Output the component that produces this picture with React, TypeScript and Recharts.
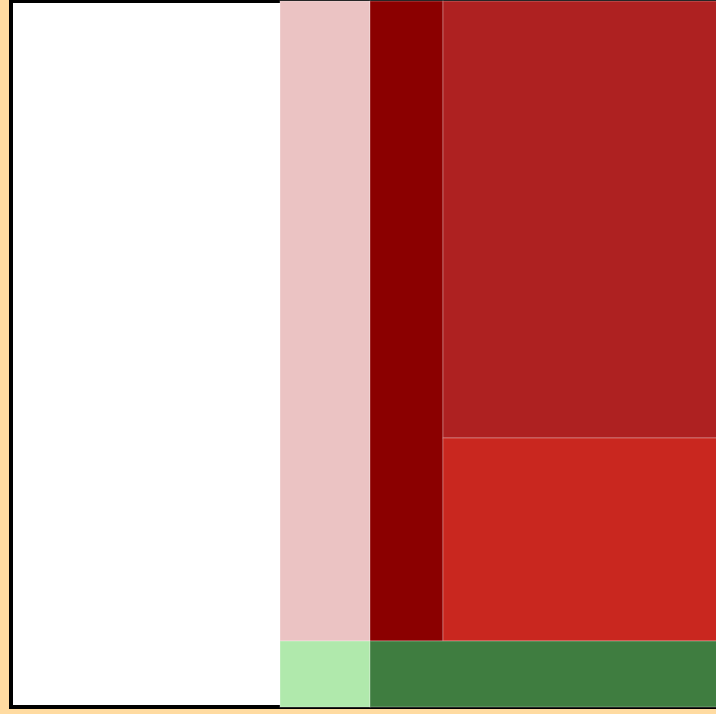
import React from 'react';
import { Treemap } from 'recharts';

// Leaf cells (values read as areas from the picture)
const leafNames = ['Blank', 'Rose', 'Maroon', 'Brick', 'Scarlet', 'Mint', 'Forest'];
const leafValues = [189914, 57600, 46720, 119738, 55622, 5940, 22902];
const leafColors = ['none', '#EBC3C3', '#8B0000', '#AE2121', '#C9271F', '#B0E9AC', '#3F7D40'];

const leaf = (i: number) => ({ name: leafNames[i], value: leafValues[i], color: leafColors[i] });

const data = [
  leaf(0),
  {
    name: 'Right',
    children: [
      {
        name: 'Reds',
        children: [
          leaf(1),
          {
            name: 'RedsRest',
            children: [leaf(2), { name: 'Bricks', children: [leaf(3), leaf(4)] }],
          },
        ],
      },
      { name: 'Greens', children: [leaf(5), leaf(6)] },
    ],
  },
];

const Cell = (props: any) => {
  const { x, y, width, height, depth, children, color } = props;
  if (depth === 0) {
    return <rect x={x} y={y} width={width} height={height} fill="#ffffff" stroke="#000000" strokeWidth={4} />;
  }
  if (children && children.length) return <g />;
  if (!color || color === 'none') return <g />;
  return (
    <rect
      x={x}
      y={y}
      width={width}
      height={height}
      fill={color}
      stroke="#ffffff"
      strokeOpacity={0.3}
      strokeWidth={1}
    />
  );
};

export default function App() {
  return (
    <>
      <style>
        {
          'html,body{background:#FFDBA1;overflow:hidden;} svg,.recharts-surface,.recharts-wrapper{overflow:visible !important;}'
        }
      </style>
      <div style={{ position: 'absolute', left: 11, top: 1, overflow: 'visible' }}>
        <Treemap
          width={706}
          height={706}
          data={data}
          dataKey="value"
          aspectRatio={2.5}
          isAnimationActive={false}
          content={<Cell />}
        />
      </div>
    </>
  );
}
